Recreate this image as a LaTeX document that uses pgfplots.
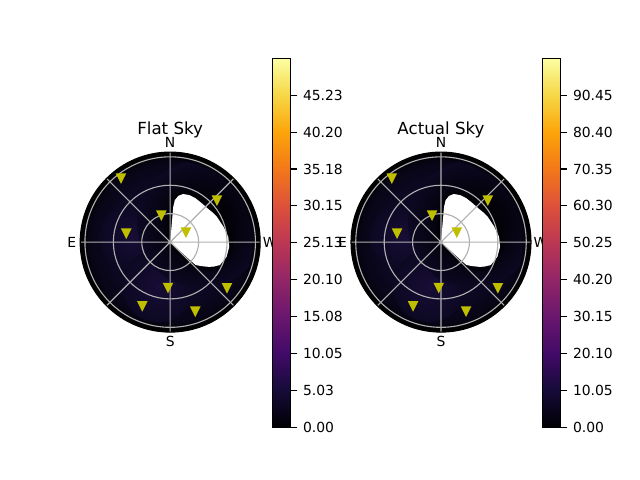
\documentclass[border=0pt]{standalone}
\usepackage{fontspec}
\setmainfont{DejaVu Sans}
\usepackage{pgfplots}
\usepackage{pgfplotstable}
\pgfplotsset{compat=1.18}
\usepgfplotslibrary{polar}
\definecolor{skyin}{RGB}{12,8,34}
\definecolor{skymid}{RGB}{7,5,21}
\definecolor{skyglow}{RGB}{24,13,54}
\definecolor{skydark}{RGB}{3,2,10}
\definecolor{mplgrid}{HTML}{B0B0B0}
\definecolor{mply}{rgb}{0.75,0.75,0}
\pgfdeclareradialshading{skyshade}{\pgfpoint{0bp}{0bp}}{color(0bp)=(skyin); color(17bp)=(skyin); color(22.5bp)=(skymid); color(24.4bp)=(black); color(50bp)=(black)}
\pgfdeclareradialshading{darkshade}{\pgfpoint{0bp}{0bp}}{color(0bp)=(black); color(12bp)=(skydark); color(25bp)=(skyin); color(50bp)=(skyin)}
\pgfdeclareplotmark{mplv}{%
  \pgfpathmoveto{\pgfqpoint{0pt}{-\pgfplotmarksize}}%
  \pgfpathlineto{\pgfqpoint{-\pgfplotmarksize}{\pgfplotmarksize}}%
  \pgfpathlineto{\pgfqpoint{\pgfplotmarksize}{\pgfplotmarksize}}%
  \pgfpathclose\pgfusepathqfillstroke}
\pgfplotsset{colormap={inferno}{rgb255=(0,0,4) rgb255=(22,11,57) rgb255=(66,10,104) rgb255=(106,23,110) rgb255=(147,38,103) rgb255=(188,55,84) rgb255=(221,81,58) rgb255=(243,120,25) rgb255=(252,165,10) rgb255=(246,215,70) rgb255=(252,255,164)}}

% marker positions: angle (deg, 0 = W, counterclockwise; N = 90, E = 180), radius
\pgfplotstableread{
a r
127.6 85.1
108.4 29.8
168.7 47.3
31.8 19.6
41.8 66.2
267.2 48.2
321.1 77.1
246.4 73.6
289.9 77.7
}\markers
% region without data (white)
\pgfplotstableread{
a r
85 0
85 37.5
83.6 44.6
80 49.5
75 52.5
68 53.5
60.5 53.5
50 52.8
42.8 53
35 54.5
28.6 56
16.1 58.5
5.2 61.5
-4.6 62.5
-14.6 61.5
-24.8 57.8
-30 52
-33 47.9
-38 41
-42 36
-42.2 25.6
-42 0
}\nodata

\pgfplotsset{skypolar/.style={
  at={(#1,171.3pt)}, anchor=center,
  scale only axis, width=129.6pt, height=129.6pt,
  ymin=0, ymax=95, clip=false}}

\newcommand\skypanel[2]{%
\begin{polaraxis}[
  skypolar=#1,
  xtick={0,45,...,315}, xticklabel={\relax},
  ytick={30,60,90}, yticklabel={\relax},
  grid=major, major grid style={color=mplgrid, line width=0.8pt},
  axis line style={black, line width=0.8pt},
  y axis line style={opacity=0},
  tick style={opacity=0},
  axis on top,
]
\path[shading=skyshade] (axis cs:0,0) circle [radius=64.8pt];
\shade[inner color=skyglow, outer color=skyin] (axis cs:172,40) circle [radius=24pt];
\shade[inner color=skyglow, outer color=skyin] (axis cs:255,48) circle [radius=26pt];
\begin{scope}
\clip (axis cs:0,0) circle [radius=59pt];
\path[shading=darkshade] (axis cs:30,38) circle [radius=46pt];
\end{scope}
\addplot[draw=black, line width=6pt, opacity=0.45, fill=white] table[x=a,y=r] {\nodata};
\addplot[draw=none, fill=white] table[x=a,y=r] {\nodata};
\node[font=\fontsize{10}{12}\selectfont, inner sep=0pt] at (axis cs:90,105.5) {N};
\node[font=\fontsize{10}{12}\selectfont, inner sep=0pt] at (axis cs:180,104) {E};
\node[font=\fontsize{10}{12}\selectfont, inner sep=0pt] at (axis cs:270,105) {S};
\node[font=\fontsize{10}{12}\selectfont, inner sep=0pt] at (axis cs:0,105) {W};
\end{polaraxis}
\begin{polaraxis}[skypolar=#1, hide axis]
\addplot[only marks, mark=mplv, mark size=3pt, color=mply, mark options={line width=1pt}] table[x=a,y=r] {\markers};
\end{polaraxis}
\node[font=\fontsize{12}{14}\selectfont, anchor=base, inner sep=0pt, text depth=0pt] at (#1,248.6pt) {#2};
}

\newcommand\skybar[4]{%
\begin{axis}[
  at={(#1,37.94pt)}, anchor=south west,
  scale only axis, width=13.25pt, height=265.68pt,
  xmin=0, xmax=1, ymin=0, ymax=#2,
  xtick=\empty,
  ytick={#3}, yticklabels={#4},
  yticklabel pos=right, ytick pos=right, tick align=outside,
  major tick length=4.86pt,
  tick style={black, line width=0.8pt},
  axis line style={black, line width=0.8pt},
  colormap name=inferno,
  point meta min=0, point meta max=#2,
  yticklabel style={font=\fontsize{10}{12}\selectfont, xshift=0.5pt},
  axis on top,
]
\addplot[surf, shader=interp, point meta=explicit] coordinates {
(0,0) [0] (1,0) [0]

(0,#2) [#2] (1,#2) [#2]
};
\end{axis}
}

\begin{document}
\begin{tikzpicture}
\path[use as bounding box] (0,0) rectangle (460.8pt,345.6pt);
\skypanel{122.54pt}{Flat Sky}
\skypanel{317.52pt}{Actual Sky}
\skybar{196.06pt}{50.25}{0,5.025,10.05,15.075,20.1,25.125,30.15,35.175,40.2,45.225}{0.00,5.03,10.05,15.08,20.10,25.13,30.15,35.18,40.20,45.23}
\skybar{390.46pt}{100.5}{0,10.05,20.1,30.15,40.2,50.25,60.3,70.35,80.4,90.45}{0.00,10.05,20.10,30.15,40.20,50.25,60.30,70.35,80.40,90.45}
\end{tikzpicture}
\end{document}
